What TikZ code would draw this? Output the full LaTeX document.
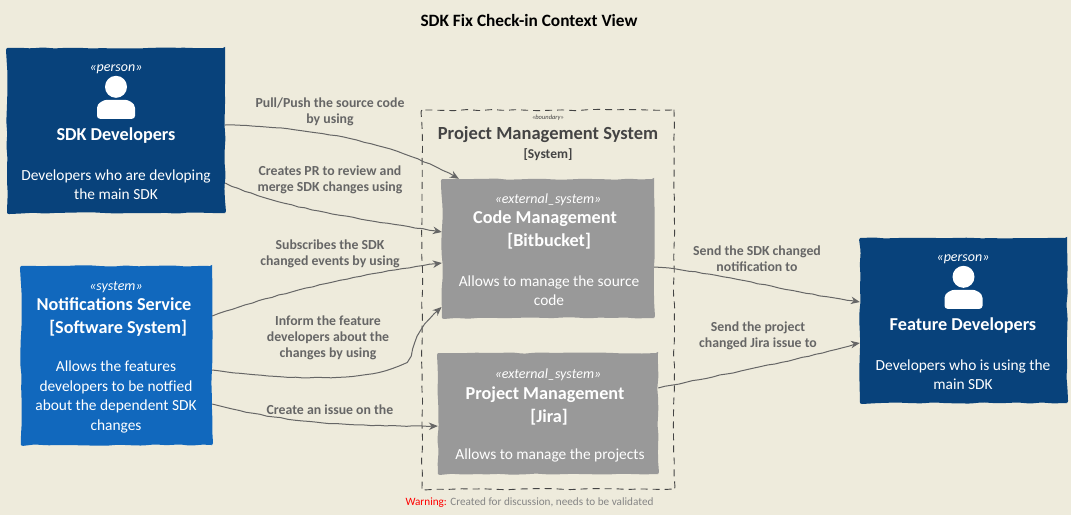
\documentclass[tikz,border=0pt]{standalone}
\usepackage{fontspec}
\setmainfont{Carlito}
\usetikzlibrary{arrows.meta}
\usetikzlibrary{calc}
\usetikzlibrary{decorations.pathmorphing}

\definecolor{paperBg}{HTML}{EEEBDC}
\definecolor{personBlue}{HTML}{08427B}
\definecolor{systemBlue}{HTML}{1168BD}
\definecolor{extGray}{HTML}{999999}
\definecolor{lineGray}{HTML}{666666}
\definecolor{frameGray}{HTML}{444444}

\begin{document}
\begin{tikzpicture}[
    x=1pt, y=-1pt,
    sketchy/.style={decorate, decoration={random steps, segment length=12pt, amplitude=0.7pt}},
    box/.style={sketchy, fill=#1, inner sep=0pt, rounded corners=2pt},
    tagText/.style={white, inner sep=0pt, font=\fontsize{14}{16}\selectfont\itshape},
    nameText/.style={white, inner sep=0pt, align=center, font=\fontsize{18.2}{23}\selectfont\bfseries},
    descText/.style={white, inner sep=0pt, align=center, font=\fontsize{15.4}{19.5}\selectfont},
    relText/.style={lineGray, inner sep=0pt, align=center, font=\fontsize{13.8}{16.3}\selectfont\bfseries},
    rel/.style={lineGray, line width=1pt, -{Stealth[length=9pt,width=7.5pt]},
        decorate, decoration={random steps, segment length=7pt, amplitude=0.4pt}},
    ]

    % Determines the boundries
    \fill[paperBg, use as bounding box] (0,0) rectangle (1071,515);

    \pgfmathsetseed{2207}

    % The person glyph, #1 is the box it stands in
    \def\personIcon#1{
        \coordinate (#1Head) at ($(#1.north)+(0,39)$);
        \fill[white] (#1Head) circle (11);
        \fill[white, rounded corners=3pt] ($(#1Head)+(-19,32)$) -- ($(#1Head)+(-19,24)$)
            .. controls ($(#1Head)+(-19,16)$) and ($(#1Head)+(-12,13)$) .. ($(#1Head)+(-6,13)$)
            -- ($(#1Head)+(6,13)$)
            .. controls ($(#1Head)+(12,13)$) and ($(#1Head)+(19,16)$) .. ($(#1Head)+(19,24)$)
            -- ($(#1Head)+(19,32)$) -- cycle;
    }

    \node[font=\fontsize{17.3}{20}\selectfont\bfseries, inner sep=0pt] (title) at (529,20) {SDK Fix Check-in Context View};

    % The boundary
    \node[sketchy, draw=frameGray, dash pattern=on 7pt off 5pt, line width=0.9pt, minimum width=252pt, minimum height=379pt,
        inner sep=0pt, rounded corners=2pt] (pmBound) at (548,299.5) {};
    \node[frameGray, inner sep=0pt, font=\fontsize{6.5}{7}\selectfont\itshape] (pmTag) at (548,117.5) {«boundary»};
    \node[frameGray, inner sep=0pt, font=\fontsize{18.5}{22}\selectfont\bfseries] (pmName) at (548,135) {Project Management System};
    \node[frameGray, inner sep=0pt, font=\fontsize{13.5}{15}\selectfont\bfseries] (pmKind) at (548,155) {[System]};

    % The boxes
    \node[box=personBlue, minimum width=218pt, minimum height=165pt] (sdkDev) at (116,130.5) {};
    \node[box=systemBlue, minimum width=191pt, minimum height=179pt] (notifSvc) at (116.5,355.5) {};
    \node[box=extGray, minimum width=212pt, minimum height=139pt] (codeMgmt) at (548,248.5) {};
    \node[box=extGray, minimum width=220pt, minimum height=121pt] (jiraMgmt) at (548,413.5) {};
    \node[box=personBlue, minimum width=207pt, minimum height=165pt] (featDev) at (963.5,320.5) {};

    % Their texts
    \node[tagText] (sdkDevTag) at (116,69) {«person»};
    \personIcon{sdkDev}
    \node[nameText] (sdkDevName) at (116,135.5) {SDK Developers};
    \node[descText] (sdkDevDesc) at (116,184.5) {Developers who are devloping\\the main SDK};

    \node[tagText] (notifTag) at (116,287) {«system»};
    \node[nameText] (notifName) at (114,317) {Notifications Service\\\ \ [Software System]};
    \node[descText] (notifDesc) at (116,397) {Allows the features\\developers to be notfied\\about the dependent SDK\\changes};

    \node[tagText] (codeTag) at (548,199.5) {«external\_system»};
    \node[nameText] (codeName) at (545,230) {Code Management\\\ \ [Bitbucket]};
    \node[descText] (codeDesc) at (549,290.5) {Allows to manage the source\\code};

    \node[tagText] (jiraTag) at (548,374.5) {«external\_system»};
    \node[nameText] (jiraName) at (545,405.5) {Project Management\\\ \ [Jira]};
    \node[descText] (jiraDesc) at (550,455.5) {Allows to manage the projects};

    \node[tagText] (featDevTag) at (963,259) {«person»};
    \personIcon{featDev}
    \node[nameText] (featDevName) at (963,325.5) {Feature Developers};
    \node[descText] (featDevDesc) at (963,374.5) {Developers who is using the\\main SDK};

    % The relations
    \draw[rel] ([yshift=5.5pt]sdkDev.east) .. controls (320,127) and (400,145) .. ([xshift=17pt]codeMgmt.north west);
    \draw[rel] ([yshift=-52.5pt]sdkDev.east) .. controls (285,210) and (370,220) .. ([yshift=16.5pt]codeMgmt.west);
    \draw[rel] ([yshift=39.5pt]notifSvc.east) .. controls (285,290) and (370,272) .. ([yshift=-14.5pt]codeMgmt.west);
    \draw[rel] ([yshift=-14.5pt]notifSvc.east) .. controls (270,378) and (370,385) .. (407,362)
        .. controls (415,350) and (410,335) .. ([yshift=11pt]codeMgmt.south west);
    \draw[rel] ([yshift=-48.5pt]notifSvc.east) .. controls (275,420) and (330,427) .. ([yshift=-12.5pt]jiraMgmt.west);
    \draw[rel] ([yshift=-18.5pt]codeMgmt.east) .. controls (720,272) and (790,293) .. ([yshift=18.5pt]featDev.west);
    \draw[rel] ([yshift=25.5pt]jiraMgmt.east) .. controls (720,375) and (800,360) .. ([yshift=-22.5pt]featDev.west);

    \node[relText] (pushText) at (330,111.5) {Pull/Push the source code\\by using};
    \node[relText] (prText) at (330,179.5) {Creates PR to review and\\merge SDK changes using};
    \node[relText] (subText) at (330,253.5) {Subscribes the SDK\\changed events by using};
    \node[relText] (informText) at (328,338) {Inform the feature\\developers about the\\changes by using};
    \node[relText] (issueText) at (330,409.5) {Create an issue on the};
    \node[relText] (sendText) at (757,258.5) {Send the SDK changed\\notification to};
    \node[relText] (jiraText) at (758,335.5) {Send the project\\changed Jira issue to};

    \node[lineGray!80, inner sep=0pt, font=\fontsize{11.2}{13}\selectfont] (warnText) at (529.5,502.5) {\textcolor{red}{Warning:} Created for discussion, needs to be validated};
\end{tikzpicture}
\end{document}
